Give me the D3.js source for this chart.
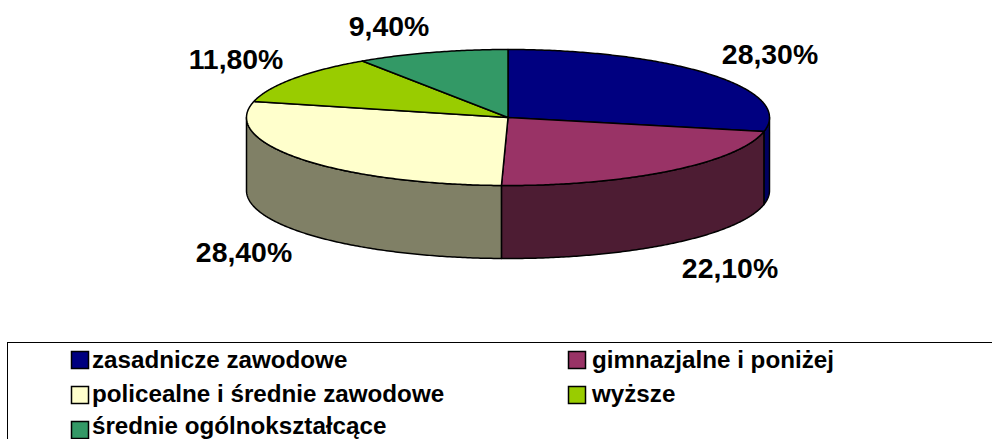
<!DOCTYPE html>
<html><head><meta charset="utf-8">
<script src="https://cdn.jsdelivr.net/npm/d3@7/dist/d3.min.js"></script>
<style>html,body{margin:0;padding:0;background:#fff}svg{display:block}
text{font-family:"Liberation Sans",Arial,sans-serif;font-weight:bold;fill:#000}</style>
</head><body><svg id="c" width="992" height="439"></svg>
<script>
const categories=["zasadnicze zawodowe","gimnazjalne i poniżej","policealne i średnie zawodowe","wyższe","średnie ogólnokształcące"];
const values=[28.3,22.1,28.4,11.8,9.4];
const valueLabels=["28,30%","22,10%","28,40%","11,80%","9,40%"];
const topColors=["#000080","#993366","#ffffcc","#99cc00","#339966"];
const wallColors=["#000060","#4d1c33","#808066","#4d6600","#1a4d33"];
const labelPos=[[770,54],[730,268],[244,252],[236,59],[389,26]];
const legendRows=[[0,0],[1,0],[0,1],[1,1],[0,2]];

const svg=d3.select("#c");
const cx=508,cy=117.5,rx=261.5,ry=68,depth=73;
const px=a=>cx+rx*Math.sin(a), py=a=>cy-ry*Math.cos(a);
const slices=d3.pie().sort(null).value(d=>d)(values);
const samples=(a,b)=>{const n=Math.max(2,Math.ceil((b-a)/0.01));return d3.range(n+1).map(i=>a+(b-a)*i/n);};
const line=d3.line();

// walls
const walls=[];
slices.forEach((s,i)=>{
  const a=Math.max(s.startAngle,Math.PI/2),b=Math.min(s.endAngle,Math.PI*1.5);
  if(b>a)walls.push({i,a,b});
});
svg.append("g").selectAll("path").data(walls).join("path")
  .attr("d",w=>{
    const f=samples(w.a,w.b);
    const topEdge=f.map(t=>[px(t),py(t)]);
    const botEdge=f.slice().reverse().map(t=>[px(t),py(t)+depth]);
    return line(topEdge.concat(botEdge))+"Z";
  })
  .attr("fill",w=>wallColors[w.i]).attr("stroke","#000").attr("stroke-width",1.5).attr("stroke-linejoin","round");

// top faces
svg.append("g").selectAll("path").data(slices).join("path")
  .attr("d",s=>line([[cx,cy]].concat(samples(s.startAngle,s.endAngle).map(t=>[px(t),py(t)])))+"Z")
  .attr("fill",(s,i)=>topColors[i]).attr("stroke","#000").attr("stroke-width",1.5).attr("stroke-linejoin","round");

// data labels
svg.append("g").selectAll("text").data(valueLabels).join("text")
  .attr("x",(d,i)=>labelPos[i][0]).attr("y",(d,i)=>labelPos[i][1]+10)
  .attr("text-anchor","middle").attr("font-size",28.4).text(d=>d);

// legend
svg.append("rect").attr("x",7.5).attr("y",342.5).attr("width",1100).attr("height",200)
  .attr("fill","#fff").attr("stroke","#000").attr("stroke-width",1);
const colX=[71,568],rowY=[351,386,421],textY=[368,402,434];
const items=svg.append("g").selectAll("g").data(categories).join("g");
items.append("rect").attr("x",(d,i)=>colX[legendRows[i][0]]+.5).attr("y",(d,i)=>rowY[legendRows[i][1]]+.5).attr("width",17).attr("height",17)
  .attr("fill",(d,i)=>topColors[i]).attr("stroke","#000").attr("stroke-width",1.5);
items.append("text").attr("x",(d,i)=>colX[legendRows[i][0]]+(legendRows[i][0]?24:21)).attr("y",(d,i)=>textY[legendRows[i][1]]).attr("font-size",24.2).text(d=>d);
</script></body></html>
